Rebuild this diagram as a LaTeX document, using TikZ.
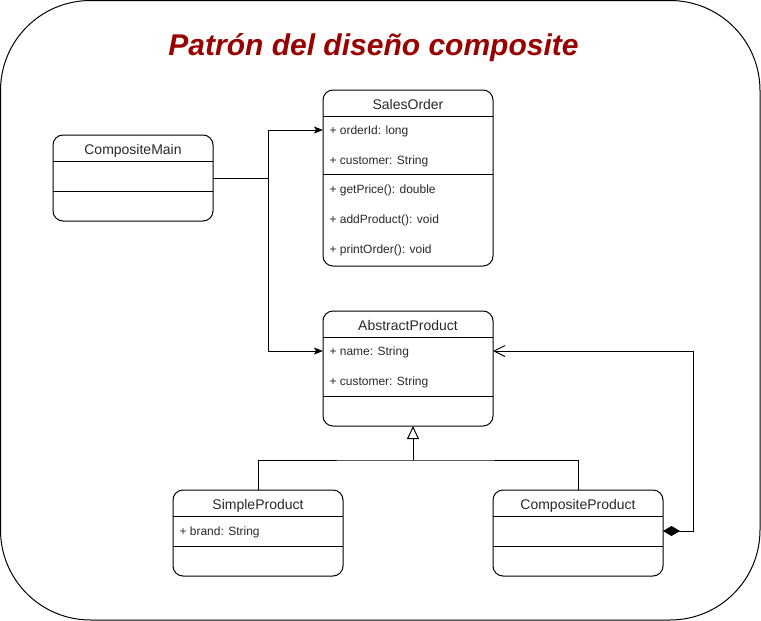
\documentclass[tikz,border=0pt]{standalone}
\usepackage{fontspec}
\setmainfont{Liberation Sans}
\usetikzlibrary{arrows.meta}
\definecolor{titlered}{RGB}{153,0,0}
\definecolor{umltext}{RGB}{40,40,40}

\begin{document}
\begin{tikzpicture}[x=1pt,y=-1pt,line width=1pt,
        classbox/.style={draw,rounded corners=10pt,inner sep=0pt,outer sep=0pt,anchor=north west},
        head/.style={inner sep=0pt,text height=10pt,text depth=0pt,font=\fontsize{14}{16}\selectfont,text=umltext},
        member/.style={anchor=west,inner sep=0pt,text height=8.6pt,text depth=0pt,font=\fontsize{12}{14}\selectfont,text=umltext},
        assoc/.style={-{Stealth[length=9pt,width=7pt,inset=2pt]}},
        compose/.style={{Diamond[length=17pt,width=10pt]}-{Straight Barb[length=11pt,width=11pt]}}]
        \useasboundingbox (0,0) rectangle (761,621);
        \draw[rounded corners=90pt] (0.5,0.5) rectangle (760,620);
        \node[anchor=base,text=titlered,font=\fontsize{30}{34}\selectfont\bfseries\itshape] (title) at (373.5,55) {Patrón del diseño composite};

        % CompositeMain
        \node[classbox,minimum width=160pt,minimum height=86pt] (cm) at (53,135) {};
        \node[head] (cmName) at (133,149.5) {CompositeMain};
        \draw (53,161) -- (213,161);
        \draw (53,191) -- (213,191);

        % SalesOrder
        \node[classbox,minimum width=170pt,minimum height=176pt] (so) at (323,90) {};
        \node[head] (soName) at (408,104.5) {SalesOrder};
        \draw (323,116) -- (493,116);
        \node[member] (soId) at (329,130) {+ orderId: long};
        \node[member] (soCust) at (329,160) {+ customer: String};
        \draw (323,174) -- (493,174);
        \node[member] (soPrice) at (329,189) {+ getPrice(): double};
        \node[member] (soAdd) at (329,219) {+ addProduct(): void};
        \node[member] (soPrint) at (329,249) {+ printOrder(): void};

        % AbstractProduct
        \node[classbox,minimum width=170pt,minimum height=115pt] (ap) at (323,311) {};
        \node[head] (apTitle) at (408,325.5) {AbstractProduct};
        \draw (323,337) -- (493,337);
        \node[member] (apName) at (329,351) {+ name: String};
        \node[member] (apCust) at (329,381) {+ customer: String};
        \draw (323,396) -- (493,396);

        % SimpleProduct
        \node[classbox,minimum width=170pt,minimum height=86pt] (sp) at (173,490) {};
        \node[head] (spName) at (258,504.5) {SimpleProduct};
        \draw (173,516) -- (343,516);
        \node[member] (spBrand) at (179,531) {+ brand: String};
        \draw (173,546) -- (343,546);

        % CompositeProduct
        \node[classbox,minimum width=170pt,minimum height=86pt] (cp) at (493,490) {};
        \node[head] (cpName) at (578,504.5) {CompositeProduct};
        \draw (493,516) -- (663,516);
        \draw (493,546) -- (663,546);

        % connectors
        \coordinate (fork) at (268,178);
        \draw[assoc] (cm.east) -- (fork) |- (soId.west -| so.west);
        \draw[assoc] (fork) |- (apName.west -| ap.west);

        \coordinate (hub) at (413,460);
        \draw (sp.north) |- (hub) -| (cp.north);
        \draw[-{Triangle[open,length=13pt,width=12pt]}] (hub) -- (hub |- ap.south);

        \coordinate (rail) at (693,351);
        \draw[compose] (cp.east |- spBrand.west) -| (rail) -- (apName.west -| ap.east);
    \end{tikzpicture}
\end{document}
